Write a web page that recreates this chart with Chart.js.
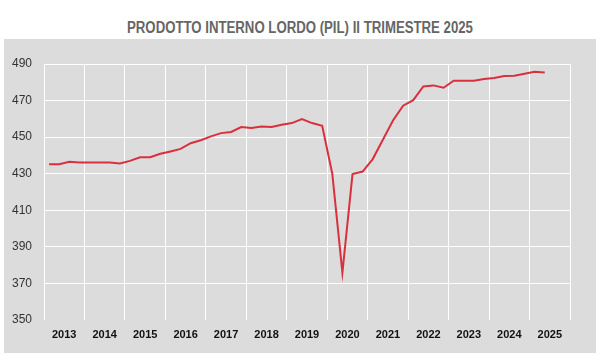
<!DOCTYPE html>
<html>
<head>
<meta charset="utf-8">
<script src="https://cdn.jsdelivr.net/npm/chart.js@4/dist/chart.umd.min.js"></script>
<style>
  html, body { margin: 0; padding: 0; background: #ffffff; width: 600px; height: 360px; overflow: hidden; }
  #title { position: absolute; left: 0; top: 18px; width: 600px; text-align: center;
           font: bold 16px 'Liberation Sans', Arial, sans-serif;
           line-height: 20px; color: #666666; white-space: nowrap;
           transform: scaleX(0.825); transform-origin: 300px 0; }
  #panel { position: absolute; left: 4px; top: 39px; width: 592px; height: 314px; background: #dcdcdc; }
  #c { display: block; }
</style>
</head>
<body>
<div id="title">PRODOTTO INTERNO LORDO (PIL) II TRIMESTRE 2025</div>
<div id="panel"><canvas id="c" width="592" height="314"></canvas></div>
<script>
// Quarterly data, 2013 Q1 – 2025 Q2
const years = [2013,2013,2013,2013, 2014,2014,2014,2014, 2015,2015,2015,2015, 2016,2016,2016,2016,
               2017,2017,2017,2017, 2018,2018,2018,2018, 2019,2019,2019,2019, 2020,2020,2020,2020,
               2021,2021,2021,2021, 2022,2022,2022,2022, 2023,2023,2023,2023, 2024,2024,2024,2024,
               2025,2025];
const quarters = [1,2,3,4, 1,2,3,4, 1,2,3,4, 1,2,3,4, 1,2,3,4, 1,2,3,4, 1,2,3,4, 1,2,3,4,
                  1,2,3,4, 1,2,3,4, 1,2,3,4, 1,2,3,4, 1,2];
const pil = [435.2,435.2,436.5,436.1, 436.1,436.1,436.1,435.6, 437.0,439.0,439.0,440.9,
             442.2,443.6,446.7,448.3, 450.4,452.2,452.8,455.5, 455.0,455.8,455.5,456.8,
             457.7,459.9,457.7,456.2, 430.0,375.9,429.8,431.2, 438.0,448.6,459.1,467.2,
             470.2,477.7,478.3,477.0, 480.9,480.9,480.9,481.8, 482.3,483.4,483.6,484.7,
             485.8,485.3];
const yTicks = [350,370,390,410,430,450,470,490];
const yearLabels = [2013,2014,2015,2016,2017,2018,2019,2020,2021,2022,2023,2024,2025];

const points = pil.map((v, i) => ({ x: years[i] + (quarters[i] - 0.5) / 4, y: v }));
const fam = "'Liberation Sans', Arial, sans-serif";

new Chart(document.getElementById('c'), {
  type: 'line',
  data: {
    datasets: [{
      data: points,
      borderColor: '#d9303e',
      borderWidth: 2,
      pointRadius: 0,
      tension: 0,
      fill: false
    }]
  },
  options: {
    responsive: false,
    animation: false,
    layout: { padding: { top: 25, right: 26, bottom: 0, left: 0 } },
    plugins: { legend: { display: false }, tooltip: { enabled: false }, title: { display: false } },
    scales: {
      x: {
        type: 'linear',
        min: yearLabels[0],
        max: yearLabels[yearLabels.length - 1] + 1,
        afterBuildTicks: (scale) => {
          const t = [];
          yearLabels.forEach(y => { t.push({ value: y }); t.push({ value: y + 0.5 }); });
          t.push({ value: yearLabels[yearLabels.length - 1] + 1 });
          scale.ticks = t;
        },
        afterFit: (scale) => { scale.height = 33; },
        border: { display: false },
        grid: {
          drawTicks: false,
          lineWidth: 1,
          color: (ctx) => (ctx.tick && ctx.tick.value % 1 === 0) ? '#ffffff' : 'rgba(0,0,0,0)'
        },
        ticks: {
          autoSkip: false,
          maxRotation: 0,
          minRotation: 0,
          padding: 8,
          color: '#111111',
          font: { family: fam, size: 11, weight: 'bold' },
          callback: (v) => (v % 1 !== 0) ? String(Math.floor(v)) : ''
        }
      },
      y: {
        min: yTicks[0],
        max: yTicks[yTicks.length - 1],
        afterBuildTicks: (scale) => { scale.ticks = yTicks.map(v => ({ value: v })); },
        afterFit: (scale) => { scale.width = 40; },
        border: { display: false },
        grid: {
          drawTicks: false,
          lineWidth: 1,
          color: (ctx) => (ctx.tick && ctx.tick.value === yTicks[0]) ? 'rgba(0,0,0,0)' : '#ffffff'
        },
        ticks: {
          padding: 12,
          color: '#333333',
          font: { family: fam, size: 12 },
          callback: (v) => String(v)
        }
      }
    }
  }
});
</script>
</body>
</html>
